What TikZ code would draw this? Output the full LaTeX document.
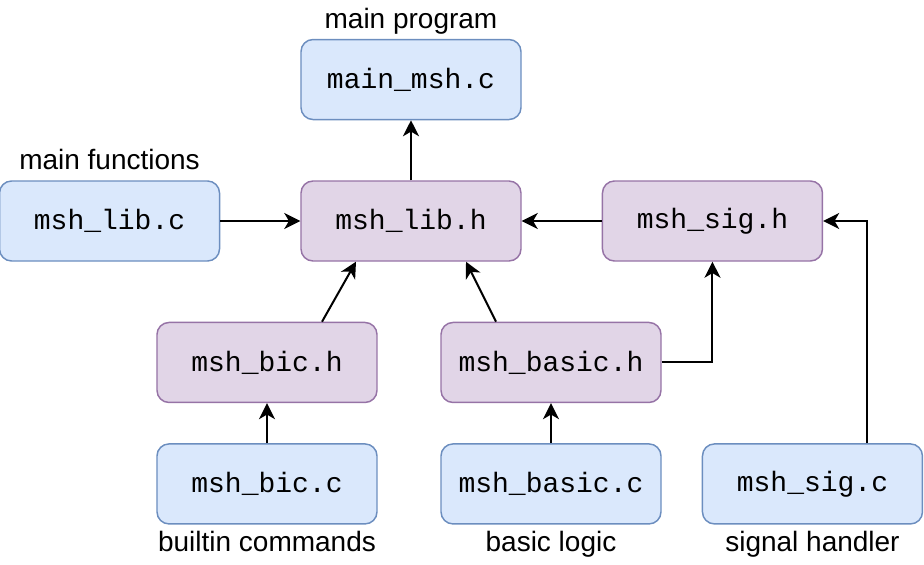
\documentclass[tikz,border=0pt]{standalone}
\usepackage{fontspec}
\setmainfont{Liberation Sans}
\setmonofont{Liberation Mono}
\usetikzlibrary{arrows.meta,positioning}
\definecolor{srcfill}{HTML}{DAE8FC}
\definecolor{srcline}{HTML}{6C8EBF}
\definecolor{hdrfill}{HTML}{E1D5E7}
\definecolor{hdrline}{HTML}{9673A6}

\begin{document}
\begin{tikzpicture}[
  node distance=45pt and 60pt,
  src/.style={draw=srcline,fill=srcfill,rounded corners=9pt,line width=1.1pt,minimum width=165pt,minimum height=60pt,inner sep=0pt,font=\ttfamily\fontsize{21}{25}\selectfont},
  hdr/.style={src,draw=hdrline,fill=hdrfill},
  note/.style={inner sep=0pt,text height=15pt,text depth=4.5pt,font=\fontsize{21}{25}\selectfont},
  line/.style={-{Stealth[length=12pt,width=12pt,inset=3.5pt]},line width=1.5pt}
]
\useasboundingbox (-308.25pt,165.75pt) rectangle (384.75pt,-257.25pt);
\node[hdr] (libh) {msh\_lib.h};
\node[src,above=of libh] (mainc) {main\_msh.c};
\node[src,left=of libh] (libc) {msh\_lib.c};
\node[hdr,right=of libh] (sigh) {msh\_sig.h};
\node[hdr,below=of libh,xshift=-108pt] (bich) {msh\_bic.h};
\node[hdr,below=of libh,xshift=105pt] (basich) {msh\_basic.h};
\node[src,below=30pt of bich] (bicc) {msh\_bic.c};
\node[src,below=30pt of basich] (basicc) {msh\_basic.c};
\node[src,right=30pt of basicc] (sigc) {msh\_sig.c};
% labels
\node[note,above=3pt of mainc] (mainlbl) {main program};
\node[note,above=3pt of libc] (liblbl) {main functions};
\node[note,below=5pt of bicc] (biclbl) {builtin commands};
\node[note,below=5pt of basicc] (basiclbl) {basic logic};
\node[note,below=5pt of sigc] (siglbl) {signal handler};
\draw[line] (libh)--(mainc);
\draw[line] (libc)--(libh);
\draw[line] (sigh)--(libh);
\draw[line] ([xshift=41.25pt]bich.north)--([xshift=-41.25pt]libh.south);
\draw[line] ([xshift=-41.25pt]basich.north)--([xshift=41.25pt]libh.south);
\draw[line] (basich.east)-|(sigh.south);
\draw[line] ([xshift=41.25pt]sigc.north)|-(sigh.east);
\draw[line] (bicc)--(bich);
\draw[line] (basicc)--(basich);
\end{tikzpicture}
\end{document}
